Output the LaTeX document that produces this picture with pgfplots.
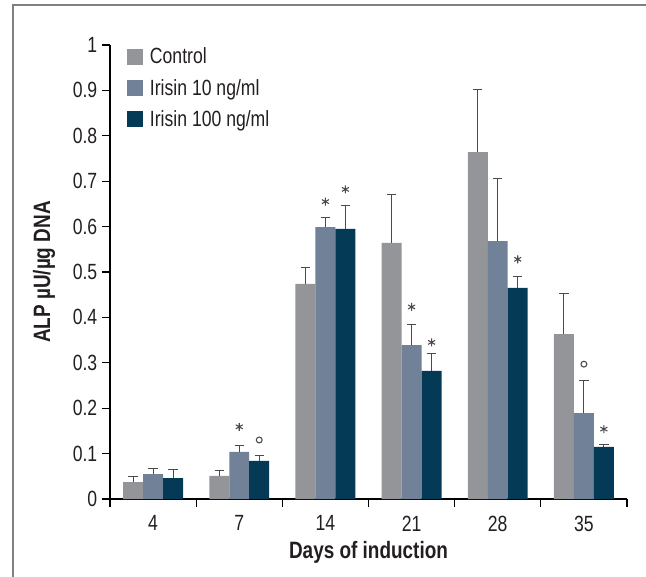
\documentclass[border=0pt]{standalone}
\usepackage{fontspec}
\setmainfont{Liberation Sans}[FakeStretch=0.8]
\usepackage{pgfplots}
\usepackage{pgfplotstable}
\pgfplotsset{compat=1.18}

\definecolor{ctrl}{HTML}{939598}
\definecolor{iri10}{HTML}{708198}
\definecolor{iri100}{HTML}{053A56}
\definecolor{errc}{HTML}{4A4A4C}
\definecolor{framec}{HTML}{808080}
\definecolor{txt}{HTML}{231F20}

% x = day index (4,7,14,21,28,35), y = mean, e = upper error
\pgfplotstableread{
x y e
0 0.037 0.012
1 0.051 0.011
2 0.474 0.036
3 0.564 0.107
4 0.764 0.139
5 0.363 0.089
}\ctrldata
\pgfplotstableread{
x y e
0 0.055 0.013
1 0.104 0.013
2 0.599 0.021
3 0.339 0.045
4 0.568 0.138
5 0.189 0.071
}\tenData
\pgfplotstableread{
x y e
0 0.046 0.019
1 0.084 0.011
2 0.595 0.052
3 0.282 0.038
4 0.465 0.025
5 0.115 0.005
}\hundredData

\begin{document}
\begin{tikzpicture}
\begin{axis}[
    at={(0pt,0pt)}, anchor=south west,
    width=387.75pt, height=340.5pt, scale only axis,
    xmin=-0.5, xmax=5.5, ymin=0, ymax=1,
    axis lines*=left,
    axis line style={line width=0.9pt, black},
    tick align=outside,
    major tick length=6pt,
    tick style={line width=0.9pt, black},
    xtick={-0.5,0.5,1.5,2.5,3.5,4.5,5.5},
    xticklabels={},
    extra x ticks={0,1,2,3,4,5},
    extra x tick labels={4,7,14,21,28,35},
    extra x tick style={major tick length=0pt, tick label style={yshift=-9pt}},
    ytick={0,0.1,0.2,0.3,0.4,0.5,0.6,0.7,0.8,0.9,1},
    yticklabels={0,0.1,0.2,0.3,0.4,0.5,0.6,0.7,0.8,0.9,1},
    ticklabel style={font=\fontsize{16.5}{18}\selectfont, text=txt},
    every axis x label/.style={at={(axis description cs:0.5,-0.1167)}, anchor=center},
    every axis y label/.style={at={(axis description cs:-0.1277,0.5)}, anchor=center, rotate=90},
    label style={font=\bfseries\fontsize{17.75}{19}\selectfont, text=txt},
    xlabel={Days of induction},
    ylabel={ALP µU/µg DNA},
    legend style={at={(axis description cs:0.033,1.0)}, anchor=north west,
        draw=none, fill=none, inner sep=0pt, row sep=6pt,
        font=\fontsize{16.5}{18}\selectfont, text=txt,
        /tikz/every odd column/.append style={column sep=3pt}},
    legend cell align=left,
    legend image code/.code={\fill[#1, draw=none] (0pt,-6pt) rectangle (12pt,6pt);},
    error bars/error bar style={line width=0.8pt, errc},
    error bars/error mark options={rotate=90, mark size=3.5pt, line width=0.8pt, errc},
]
\addplot[ybar, bar width=0.232, bar shift=0, fill=ctrl, draw=none,
    error bars/.cd, y dir=plus, y explicit]
    table[x expr=\thisrow{x}-0.232, y=y, y error=e] {\ctrldata};
\addlegendentry{Control}
\addplot[ybar, bar width=0.232, bar shift=0, fill=iri10, draw=none,
    error bars/.cd, y dir=plus, y explicit]
    table[x=x, y=y, y error=e] {\tenData};
\addlegendentry{Irisin 10 ng/ml}
\addplot[ybar, bar width=0.232, bar shift=0, fill=iri100, draw=none,
    error bars/.cd, y dir=plus, y explicit]
    table[x expr=\thisrow{x}+0.232, y=y, y error=e] {\hundredData};
\addlegendentry{Irisin 100 ng/ml}
% significance marks
\addplot[forget plot, only marks, mark=asterisk, mark size=3pt, errc,
    mark options={line width=0.8pt}]
    coordinates {(1,0.159)(2,0.655)(2.232,0.682)(3,0.423)(3.232,0.345)(4.232,0.528)(5.232,0.154)};
\addplot[forget plot, only marks, mark=o, mark size=2.2pt, errc,
    mark options={line width=0.8pt}]
    coordinates {(1.232,0.130)(5,0.297)};
\end{axis}
\draw[framec, line width=1.2pt] (-72.75pt,-60pt) -- (-72.75pt,370.5pt) -- (405pt,370.5pt);
\pgfresetboundingbox
\useasboundingbox (-82.5pt,-57.75pt) rectangle (402pt,374.25pt);
\end{tikzpicture}
\end{document}
